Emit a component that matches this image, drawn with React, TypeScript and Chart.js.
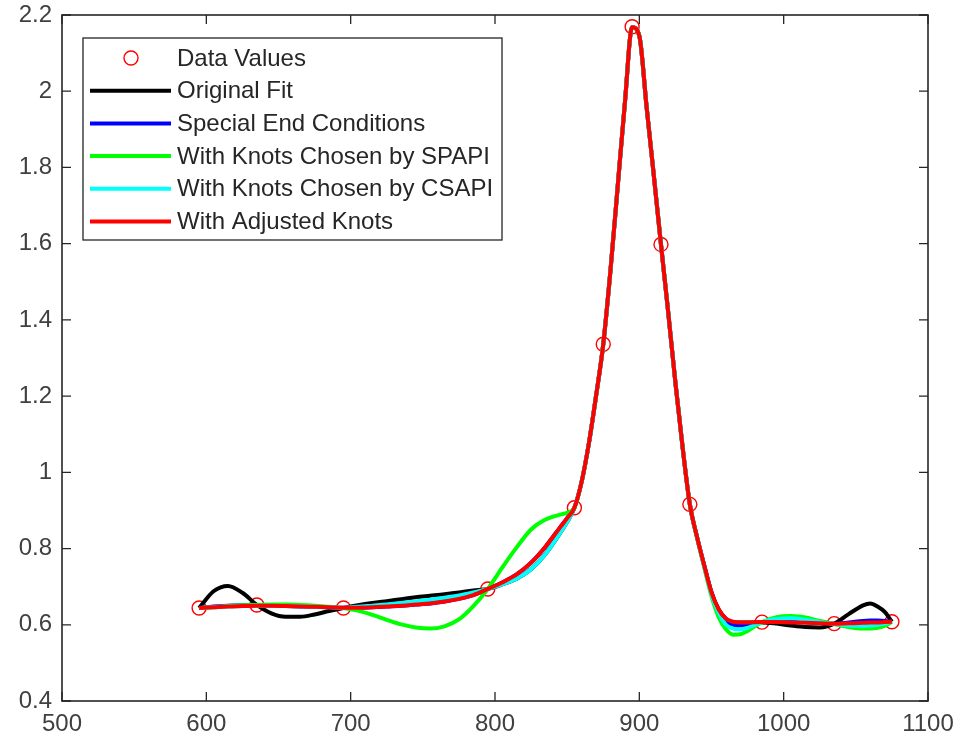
import React, { useEffect, useRef } from 'react';
import { Chart, registerables } from 'chart.js';

Chart.register(...registerables);

// ---------- data ----------
const dataX = [595, 635, 695, 795, 855, 875, 895, 915, 935, 985, 1035, 1075];
const dataY = [0.644, 0.652, 0.644, 0.694, 0.907, 1.336, 2.169, 1.598, 0.916, 0.607, 0.603, 0.608];

const xs = [
  595, 605, 615, 625, 635, 645, 655, 665, 675, 685, 695,
  705, 715, 725, 735, 745, 755, 765, 775, 785, 795, 805, 815, 825, 835, 845,
  850, 855, 860, 865, 870, 875, 880, 885, 890, 895, 900, 905, 910,
  915, 920, 925, 930, 935, 940, 945, 950, 955, 960, 965, 970, 975,
  985, 995, 1005, 1015, 1025, 1035, 1045, 1055, 1060, 1065, 1070, 1075,
];

const originalFit = [
  0.644, 0.688, 0.702, 0.684, 0.652, 0.630, 0.621, 0.621, 0.627, 0.636, 0.644,
  0.651, 0.657, 0.662, 0.667, 0.672, 0.676, 0.680, 0.685, 0.690, 0.694, 0.706, 0.721, 0.746, 0.786, 0.840,
  0.870, 0.907, 0.975, 1.075, 1.200, 1.336, 1.530, 1.750, 1.970, 2.168, 2.145, 1.960, 1.780,
  1.598, 1.420, 1.235, 1.065, 0.916, 0.830, 0.755, 0.685, 0.640, 0.616, 0.607, 0.606, 0.606,
  0.606, 0.603, 0.598, 0.594, 0.593, 0.603, 0.628, 0.651, 0.656, 0.648, 0.634, 0.608,
];

const specialEnd = [
  0.644, 0.648, 0.650, 0.651, 0.651, 0.650, 0.649, 0.648, 0.647, 0.646, 0.645,
  0.645, 0.646, 0.648, 0.650, 0.653, 0.656, 0.661, 0.668, 0.678, 0.694, 0.711, 0.732, 0.763, 0.805, 0.855,
  0.880, 0.907, 0.975, 1.075, 1.200, 1.336, 1.530, 1.750, 1.970, 2.168, 2.145, 1.960, 1.780,
  1.598, 1.420, 1.235, 1.065, 0.916, 0.830, 0.755, 0.684, 0.636, 0.610, 0.600, 0.598, 0.600,
  0.607, 0.609, 0.609, 0.607, 0.605, 0.603, 0.606, 0.610, 0.611, 0.611, 0.610, 0.608,
];

const spapiKnots = [
  0.644, 0.646, 0.649, 0.651, 0.652, 0.653, 0.653, 0.652, 0.650, 0.647, 0.644,
  0.637, 0.626, 0.613, 0.601, 0.593, 0.590, 0.596, 0.614, 0.649, 0.694, 0.750, 0.803, 0.850, 0.876, 0.889,
  0.894, 0.907, 0.975, 1.075, 1.200, 1.336, 1.530, 1.750, 1.970, 2.168, 2.145, 1.960, 1.780,
  1.598, 1.420, 1.235, 1.065, 0.916, 0.828, 0.750, 0.675, 0.620, 0.588, 0.574, 0.575, 0.584,
  0.607, 0.620, 0.623, 0.619, 0.610, 0.602, 0.594, 0.590, 0.590, 0.592, 0.597, 0.608,
];

const csapiKnots = [
  0.644, 0.646, 0.648, 0.649, 0.650, 0.650, 0.649, 0.648, 0.647, 0.646, 0.645,
  0.647, 0.650, 0.653, 0.657, 0.661, 0.666, 0.671, 0.677, 0.685, 0.694, 0.706, 0.721, 0.746, 0.786, 0.840,
  0.870, 0.907, 0.975, 1.075, 1.200, 1.336, 1.530, 1.750, 1.970, 2.168, 2.145, 1.960, 1.780,
  1.598, 1.420, 1.235, 1.065, 0.916, 0.830, 0.753, 0.680, 0.632, 0.600, 0.590, 0.588, 0.592,
  0.607, 0.615, 0.617, 0.613, 0.607, 0.602, 0.598, 0.597, 0.598, 0.600, 0.603, 0.608,
];

const adjustedKnots = [
  0.644, 0.646, 0.648, 0.649, 0.650, 0.650, 0.649, 0.648, 0.647, 0.646, 0.645,
  0.645, 0.646, 0.648, 0.650, 0.653, 0.656, 0.661, 0.668, 0.678, 0.694, 0.711, 0.732, 0.763, 0.805, 0.855,
  0.880, 0.907, 0.975, 1.075, 1.200, 1.336, 1.530, 1.750, 1.970, 2.168, 2.145, 1.960, 1.780,
  1.598, 1.420, 1.235, 1.065, 0.916, 0.830, 0.755, 0.685, 0.640, 0.616, 0.608, 0.606, 0.606,
  0.607, 0.607, 0.606, 0.605, 0.604, 0.603, 0.604, 0.605, 0.606, 0.606, 0.607, 0.608,
];

const xTickValues = [500, 600, 700, 800, 900, 1000, 1100];
const yTickValues = [0.4, 0.6, 0.8, 1, 1.2, 1.4, 1.6, 1.8, 2, 2.2];

const seriesLabels = [
  'Data Values',
  'Original Fit',
  'Special End Conditions',
  'With Knots Chosen by SPAPI',
  'With Knots Chosen by CSAPI',
  'With Adjusted Knots',
];
const seriesColors = ['#ff0000', '#000000', '#0000ff', '#00ff00', '#00ffff', '#ff0000'];

// ---------- styling ----------
const FONT = "'Liberation Sans', Arial, Helvetica, sans-serif";
const AXIS_COLOR = '#262626';
const TICK_LEN = 9;
const LINE_W = 4;

const toPoints = (ys: number[]) => xs.map((x, i) => ({ x, y: ys[i] }));

const axesPlugin = {
  id: 'matlabAxes',
  afterDatasetsDraw(chart: any) {
    const { ctx, chartArea: a, scales } = chart;
    ctx.save();
    ctx.strokeStyle = AXIS_COLOR;
    ctx.lineWidth = 1.3;
    ctx.beginPath();
    for (const t of xTickValues) {
      const px = scales.x.getPixelForValue(t);
      ctx.moveTo(px, a.bottom);
      ctx.lineTo(px, a.bottom - TICK_LEN);
      ctx.moveTo(px, a.top);
      ctx.lineTo(px, a.top + TICK_LEN);
    }
    for (const t of yTickValues) {
      const py = scales.y.getPixelForValue(t);
      ctx.moveTo(a.left, py);
      ctx.lineTo(a.left + TICK_LEN, py);
      ctx.moveTo(a.right, py);
      ctx.lineTo(a.right - TICK_LEN, py);
    }
    ctx.stroke();
    ctx.lineWidth = 1.6;
    ctx.strokeRect(a.left, a.top, a.right - a.left, a.bottom - a.top);
    ctx.restore();
  },
  afterDraw(chart: any) {
    const { ctx, chartArea: a } = chart;
    const bx = a.left + 21;
    const by = a.top + 23;
    const bw = 419;
    const bh = 202;
    const rowH = 32.7;
    ctx.save();
    ctx.fillStyle = '#ffffff';
    ctx.fillRect(bx, by, bw, bh);
    ctx.strokeStyle = AXIS_COLOR;
    ctx.lineWidth = 1.3;
    ctx.strokeRect(bx, by, bw, bh);
    ctx.font = `24px ${FONT}`;
    ctx.textBaseline = 'middle';
    ctx.textAlign = 'left';
    seriesLabels.forEach((label, i) => {
      const cy = by + 20 + i * rowH;
      if (i === 0) {
        ctx.strokeStyle = seriesColors[0];
        ctx.lineWidth = 1.4;
        ctx.beginPath();
        ctx.arc(bx + 48, cy, 7, 0, Math.PI * 2);
        ctx.stroke();
      } else {
        ctx.strokeStyle = seriesColors[i];
        ctx.lineWidth = LINE_W;
        ctx.beginPath();
        ctx.moveTo(bx + 7, cy);
        ctx.lineTo(bx + 88, cy);
        ctx.stroke();
      }
      ctx.fillStyle = '#262626';
      ctx.fillText(label, bx + 94, cy + 1);
    });
    ctx.restore();
  },
};

export default function App() {
  const canvasRef = useRef<HTMLCanvasElement | null>(null);

  useEffect(() => {
    const canvas = canvasRef.current;
    if (!canvas) return;
    const lineSeries = [originalFit, specialEnd, spapiKnots, csapiKnots, adjustedKnots];
    const datasets: any[] = [
      {
        label: seriesLabels[0],
        data: dataX.map((x, i) => ({ x, y: dataY[i] })),
        showLine: false,
        pointStyle: 'circle',
        pointRadius: 7,
        pointBorderWidth: 1.4,
        pointBorderColor: seriesColors[0],
        pointBackgroundColor: 'rgba(0,0,0,0)',
        borderColor: seriesColors[0],
        order: 6,
      },
      ...lineSeries.map((ys, i) => ({
        label: seriesLabels[i + 1],
        data: toPoints(ys),
        borderColor: seriesColors[i + 1],
        backgroundColor: seriesColors[i + 1],
        borderWidth: LINE_W,
        pointRadius: 0,
        cubicInterpolationMode: 'monotone',
        fill: false,
        order: 5 - i,
      })),
    ];

    const chart = new Chart(canvas, {
      type: 'line',
      data: { datasets },
      options: {
        animation: false,
        responsive: false,
        maintainAspectRatio: false,
        devicePixelRatio: 1,
        layout: { padding: { left: 0, top: 15, right: 35, bottom: 0 } },
        plugins: {
          legend: { display: false },
          tooltip: { enabled: false },
        },
        scales: {
          x: {
            type: 'linear',
            min: 500,
            max: 1100,
            afterFit: (s: any) => {
              s.height = 47;
              s.paddingLeft = 0;
              s.paddingRight = 0;
            },
            afterBuildTicks: (s: any) => {
              s.ticks = xTickValues.map((v) => ({ value: v }));
            },
            grid: { display: false, drawTicks: false },
            border: { display: false },
            ticks: {
              padding: 9,
              maxRotation: 0,
              autoSkip: false,
              color: '#404040',
              font: { family: FONT, size: 24 },
              callback: (v: any) => String(v),
            },
          },
          y: {
            type: 'linear',
            min: 0.4,
            max: 2.2,
            afterFit: (s: any) => {
              s.width = 62;
              s.paddingTop = 0;
              s.paddingBottom = 0;
            },
            afterBuildTicks: (s: any) => {
              s.ticks = yTickValues.map((v) => ({ value: v }));
            },
            grid: { display: false, drawTicks: false },
            border: { display: false },
            ticks: {
              padding: 10,
              autoSkip: false,
              color: '#404040',
              font: { family: FONT, size: 24 },
              callback: (v: any) => String(Number(Number(v).toFixed(1))),
            },
          },
        },
      },
      plugins: [axesPlugin],
    });

    return () => chart.destroy();
  }, []);

  return (
    <div style={{ position: 'absolute', left: 0, top: 0, width: 963, height: 748, background: '#fff' }}>
      <canvas ref={canvasRef} width={963} height={748} style={{ width: 963, height: 748, display: 'block' }} />
    </div>
  );
}
